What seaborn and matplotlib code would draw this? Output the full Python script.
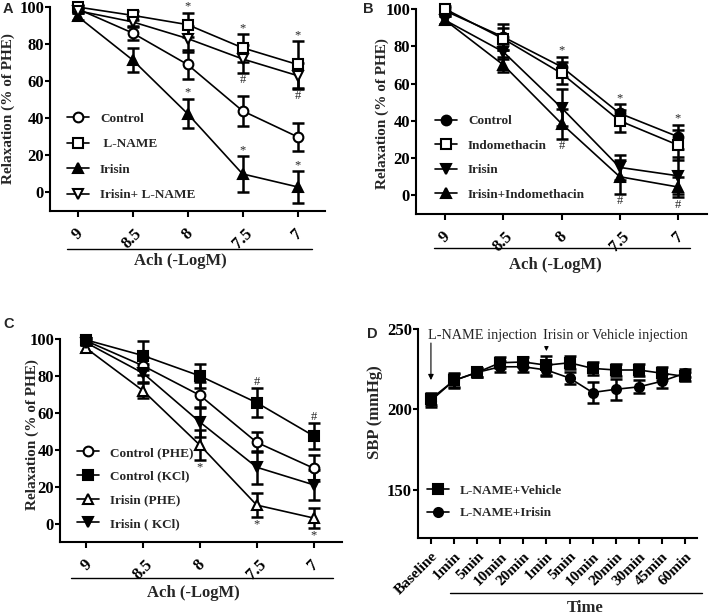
import numpy as np
import matplotlib
matplotlib.use('Agg')
import matplotlib.pyplot as plt
import seaborn as sns

# Ach concentration (-LogM) for panels A-C
ach_labels = ['9', '8.5', '8', '7.5', '7']

# Panel A
a_names = ['Control', ' L-NAME', 'Irisin', 'Irisin+ L-NAME']
a_control = [99, 86, 69, 44, 30]
a_control_err = [1.5, 4, 8, 8, 7.5]
a_lname = [100, 95.5, 90.5, 78, 69]
a_lname_err = [1, 2.5, 6.5, 7.5, 12.5]
a_irisin = [95, 71.5, 42.5, 10, 3]
a_irisin_err = [2, 6.5, 8, 9.5, 8.5]
a_irisin_lname = [98, 92, 83, 72, 63]
a_irisin_lname_err = [1.5, 3, 7, 7.5, 7]

# Panel B
b_names = ['Control', 'Indomethacin', 'Irisin', 'Irisin+Indomethacin']
b_control = [99, 85, 69, 44, 31.5]
b_control_err = [1.5, 7, 5.5, 5, 6.5]
b_indo = [100, 84, 65.5, 40, 27]
b_indo_err = [1.5, 6, 6, 6, 8]
b_irisin = [94, 77, 47, 15, 10.5]
b_irisin_err = [2, 4, 10, 6.5, 10]
b_irisin_indo = [94, 70, 38.5, 10, 4.5]
b_irisin_indo_err = [2, 4, 8, 9, 5.5]

# Panel C
c_names = ['Control (PHE)', 'Control (KCl)', 'Irisin (PHE)', 'Irisin ( KCl)']
c_control_phe = [99, 85.5, 69.5, 44, 30]
c_control_phe_err = [1.5, 5, 7, 5.5, 7]
c_control_kcl = [99.5, 91, 80, 65.5, 47.5]
c_control_kcl_err = [1, 8, 6.5, 8, 7]
c_irisin_phe = [95, 72, 42.5, 10, 3]
c_irisin_phe_err = [2, 4, 8, 6.5, 5.5]
c_irisin_kcl = [98, 81.5, 55, 30.5, 21]
c_irisin_kcl_err = [1.5, 5, 8, 9, 8]

# Panel D: SBP over time
d_times = ['Baseline', '1min', '5min', '10min', '20min', '1min', '5min',
           '10min', '20min', '30min', '45min', '60min']
d_names = ['L-NAME+Vehicle', 'L-NAME+Irisin']
d_vehicle = [206.5, 218, 223, 229, 229.5, 227.5, 229, 225.5, 224.5, 224.5, 222.5, 220.5]
d_vehicle_err = [4, 4.5, 3, 3.5, 3, 6, 4, 4, 4, 3.5, 4, 3]
d_irisin = [205.5, 218, 223, 226.5, 226.5, 224.5, 219.5, 210.5, 212.5, 214, 217.5, 222.5]
d_irisin_err = [4, 4, 3, 3.5, 3, 4, 4, 6.5, 6.5, 4, 4.5, 2.5]

sns.set_style('ticks')
plt.rcParams['font.family'] = ['Liberation Serif', 'DejaVu Serif']
plt.rcParams['axes.linewidth'] = 1.5
plt.rcParams['xtick.major.width'] = 1.5
plt.rcParams['ytick.major.width'] = 1.5
plt.rcParams['xtick.major.size'] = 4.5
plt.rcParams['ytick.major.size'] = 3.5
plt.rcParams['xtick.color'] = 'black'
plt.rcParams['ytick.color'] = 'black'
plt.rcParams['axes.edgecolor'] = 'black'

fig = plt.figure(figsize=(7.09, 6.16), dpi=100)
W, H = 709, 616


def px_axes(x0, x1, y0, y1):
    return fig.add_axes([x0 / W, 1 - y1 / H, (x1 - x0) / W, (y1 - y0) / H])


def draw_series(ax, vals, errs, label, marker, filled, ms=7):
    x = np.arange(len(vals))
    eb = ax.errorbar(x, vals, yerr=errs, fmt='none', ecolor='black',
                     elinewidth=1.8, capsize=4, capthick=1.8, zorder=2)
    for art in eb.get_children():
        art.set_clip_on(False)
    sns.lineplot(x=x, y=vals, ax=ax, color='black', marker=marker,
                 markersize=ms, markerfacecolor='black' if filled else 'white',
                 markeredgecolor='black', markeredgewidth=1.5, linewidth=1.2,
                 label=label, clip_on=False, zorder=3)


def style_axes(ax, labels, xlim, ylim, yticks, rot_anchor=False, fs=12):
    sns.despine(ax=ax)
    ax.set_xlim(*xlim)
    ax.set_ylim(*ylim)
    ax.set_yticks(yticks)
    ax.set_xticks(np.arange(len(labels)))
    if rot_anchor:
        ax.set_xticklabels(labels, rotation=45, ha='right', va='top',
                           rotation_mode='anchor', fontweight='bold', fontsize=fs)
    else:
        ax.set_xticklabels(labels, rotation=45, ha='center', va='top',
                           fontweight='bold', fontsize=fs)
    ax.tick_params(axis='x', pad=6)
    ax.tick_params(axis='y', pad=0.8)
    for t in ax.get_yticklabels():
        t.set_fontweight('bold')
        t.set_fontsize(12)


def mark(ax, vals, errs, idx, sym, side):
    for i in idx:
        if side == 'up':
            ax.annotate(sym, (i, vals[i] + errs[i]), xytext=(0, 0),
                        textcoords='offset points', ha='center', va='bottom',
                        fontsize=9)
        else:
            ax.annotate(sym, (i, vals[i] - errs[i]), xytext=(0, -1),
                        textcoords='offset points', ha='center', va='top',
                        fontsize=9)


def finish_legend(ax, x, y, spacing):
    h, l = ax.get_legend_handles_labels()
    ax.legend(h, l, loc='upper left', bbox_to_anchor=(x, y), frameon=False,
              prop={'weight': 'bold', 'size': 9.5}, handlelength=1.7,
              handletextpad=0.8, labelspacing=spacing, borderpad=0,
              borderaxespad=0)


def bracket(ax, x0, x1, y):
    ax.plot([x0, x1], [y, y], transform=ax.transAxes, color='black',
            lw=1.0, clip_on=False)


def ylab(ax, text, x, y, fs=11):
    ax.set_ylabel(text, fontweight='bold', fontsize=fs)
    ax.yaxis.label.set_va('center')
    ax.yaxis.set_label_coords(x, y)


def xlab(ax, text, x, y, fs=12):
    ax.set_xlabel(text, fontweight='bold', fontsize=fs)
    ax.xaxis.label.set_va('center')
    ax.xaxis.set_label_coords(x, y)


# ---- A ----
axA = px_axes(50, 325, 7, 211)
draw_series(axA, a_control, a_control_err, a_names[0], 'o', False)
draw_series(axA, a_lname, a_lname_err, a_names[1], 's', False)
draw_series(axA, a_irisin, a_irisin_err, a_names[2], '^', True)
draw_series(axA, a_irisin_lname, a_irisin_lname_err, a_names[3], 'v', False)
style_axes(axA, ach_labels, (-0.5, 4.5), (-10, 100), range(0, 101, 20))
mark(axA, a_lname, a_lname_err, [2, 3, 4], '*', 'up')
mark(axA, a_irisin_lname, a_irisin_lname_err, [3, 4], '#', 'down')
mark(axA, a_irisin, a_irisin_err, [2, 3, 4], '*', 'up')
finish_legend(axA, 0.062, 0.482, 1.0)
ylab(axA, 'Relaxation (% of PHE)', -0.153, 0.5)
bracket(axA, 0.062, 0.953, -0.186)
xlab(axA, 'Ach (-LogM)', 0.473, -0.245)

# ---- B ----
axB = px_axes(416, 707, 9, 214)
draw_series(axB, b_control, b_control_err, b_names[0], 'o', True)
draw_series(axB, b_indo, b_indo_err, b_names[1], 's', False)
draw_series(axB, b_irisin, b_irisin_err, b_names[2], 'v', True)
draw_series(axB, b_irisin_indo, b_irisin_indo_err, b_names[3], '^', True)
style_axes(axB, ach_labels, (-0.5, 4.5), (-10, 100), range(0, 101, 20))
mark(axB, b_control, b_control_err, [2, 3, 4], '*', 'up')
mark(axB, b_irisin_indo, b_irisin_indo_err, [2, 3, 4], '#', 'down')
finish_legend(axB, 0.065, 0.482, 0.92)
ylab(axB, 'Relaxation (% of PHE)', -0.117, 0.49)
bracket(axB, 0.062, 0.943, -0.166)
xlab(axB, 'Ach (-LogM)', 0.48, -0.249)

# ---- C ----
axC = px_axes(60, 342, 339, 542)
draw_series(axC, c_control_phe, c_control_phe_err, c_names[0], 'o', False)
draw_series(axC, c_control_kcl, c_control_kcl_err, c_names[1], 's', True)
draw_series(axC, c_irisin_phe, c_irisin_phe_err, c_names[2], '^', False)
draw_series(axC, c_irisin_kcl, c_irisin_kcl_err, c_names[3], 'v', True)
style_axes(axC, ach_labels, (-0.46, 4.5), (-10, 100), range(0, 101, 20))
mark(axC, c_control_kcl, c_control_kcl_err, [3, 4], '#', 'up')
mark(axC, c_irisin_phe, c_irisin_phe_err, [2, 3, 4], '*', 'down')
finish_legend(axC, 0.06, 0.47, 0.87)
ylab(axC, 'Relaxation (% of PHE)', -0.1, 0.527)
bracket(axC, 0.04, 0.968, -0.177)
xlab(axC, 'Ach (-LogM)', 0.472, -0.25)

# ---- D ----
axD = px_axes(418, 697, 329, 538)
draw_series(axD, d_vehicle, d_vehicle_err, d_names[0], 's', True, ms=6.5)
draw_series(axD, d_irisin, d_irisin_err, d_names[1], 'o', True, ms=6.5)
style_axes(axD, d_times, (-0.56, 11.52), (120, 250), [150, 200, 250],
           rot_anchor=True, fs=11)
axD.tick_params(axis='x', pad=4)
finish_legend(axD, 0.032, 0.255, 0.77)
ylab(axD, 'SBP (mmHg)', -0.154, 0.6, fs=12)
bracket(axD, 0.115, 1.018, -0.263)
xlab(axD, 'Time', 0.6, -0.335)

axD.text(-0.13, 246, 'L-NAME injection', ha='left', va='center', fontsize=10.3)
axD.annotate('', xy=(0, d_vehicle[0] + d_vehicle_err[0] + 6), xytext=(0, 243),
             arrowprops=dict(arrowstyle='-|>', color='black', lw=0.8,
                             mutation_scale=8))
axD.text(4.85, 246, 'Irisin or Vehicle injection', ha='left', va='center',
         fontsize=10.3)
axD.annotate('', xy=(5, d_vehicle[5] + d_vehicle_err[5] + 1), xytext=(5, 240),
             arrowprops=dict(arrowstyle='-|>', color='black', lw=0.8,
                             mutation_scale=6))

# panel letters
for letter, (px, py) in zip('ABCD', [(3, 2), (363, 2), (3, 317), (367, 327)]):
    fig.text(px / W, 1 - py / H, letter, ha='left', va='top',
             fontsize=10.5, fontweight='bold', family='Liberation Sans')

fig.savefig('out.png', dpi=100)
